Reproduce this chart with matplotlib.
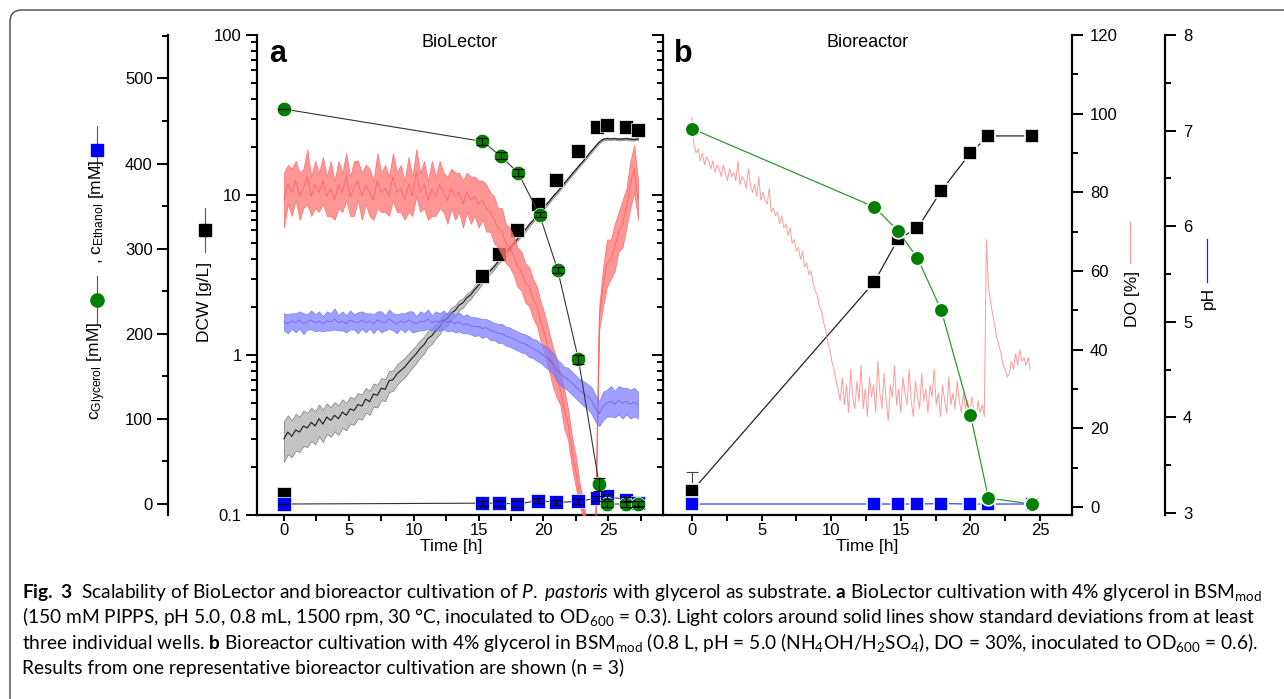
import numpy as np
import matplotlib
matplotlib.use("Agg")
import matplotlib.pyplot as plt
from matplotlib.lines import Line2D
from matplotlib.patches import FancyBboxPatch
from matplotlib.transforms import IdentityTransform
from matplotlib.ticker import MultipleLocator, LogLocator, NullFormatter

plt.rcParams['font.family'] = ['Liberation Sans', 'DejaVu Sans']
plt.rcParams['mathtext.fontset'] = 'custom'
plt.rcParams['mathtext.rm'] = 'Lato'
plt.rcParams['mathtext.it'] = 'Lato:italic'
plt.rcParams['mathtext.bf'] = 'Lato:bold'
plt.rcParams['mathtext.sf'] = 'Liberation Sans'

W, H = 1284, 699
TICK_FS = 12
LABEL_FS = 12.5

# BioLector online signals, one value every 0.3 h
bl_step = 0.3
bl_dcw = [0.30, 0.33, 0.31, 0.34, 0.33, 0.36, 0.35, 0.38, 0.36, 0.40,
          0.37, 0.41, 0.39, 0.42, 0.40, 0.44, 0.42, 0.46, 0.45, 0.49,
          0.48, 0.53, 0.51, 0.57, 0.56, 0.62, 0.61, 0.69, 0.70, 0.76,
          0.80, 0.84, 0.90, 0.96, 1.02, 1.10, 1.16, 1.27, 1.32, 1.42,
          1.50, 1.64, 1.69, 1.83, 1.90, 2.05, 2.12, 2.28, 2.38, 2.56,
          2.72, 2.94, 3.11, 3.35, 3.55, 3.83, 4.05, 4.37, 4.64, 4.99,
          5.30, 5.70, 6.05, 6.52, 6.92, 7.44, 7.90, 8.49, 9.03, 9.70,
          10.3, 11.0, 11.8, 12.6, 13.5, 14.4, 15.4, 16.4, 17.6, 18.8,
          20.1, 21.4, 22.3, 22.5, 22.4, 22.5, 22.3, 22.4, 22.5, 22.3,
          22.2, 22.4]
bl_dcw_sd = [0.085, 0.090, 0.080, 0.088, 0.082, 0.090, 0.084, 0.089, 0.083, 0.090,
             0.084, 0.088, 0.082, 0.087, 0.083, 0.088, 0.082, 0.087, 0.084, 0.089,
             0.086, 0.092, 0.088, 0.094, 0.090, 0.098, 0.095, 0.104, 0.102, 0.110,
             0.112, 0.118, 0.120, 0.126, 0.130, 0.136, 0.138, 0.145, 0.146, 0.150,
             0.150, 0.152, 0.148, 0.150, 0.145, 0.146, 0.140, 0.140, 0.135, 0.132,
             0.128, 0.125, 0.124, 0.125, 0.125, 0.128, 0.130, 0.132, 0.135, 0.140,
             0.14, 0.15, 0.15, 0.16, 0.16, 0.17, 0.17, 0.18, 0.19, 0.20,
             0.21, 0.22, 0.23, 0.24, 0.25, 0.26, 0.28, 0.29, 0.31, 0.32,
             0.33, 0.34, 0.35, 0.35, 0.35, 0.34, 0.34, 0.34, 0.35, 0.34,
             0.34, 0.34]
bl_do = [78, 82, 80, 83, 79, 81, 84, 79, 82, 80,
         83, 79, 81, 78, 82, 80, 84, 79, 81, 83,
         79, 82, 80, 78, 83, 80, 81, 79, 84, 80,
         81, 78, 82, 79, 85, 80, 82, 78, 81, 79,
         82, 80, 78, 81, 79, 80, 77, 80, 78, 79,
         77, 78, 76, 75, 73, 71, 70, 67, 66, 64,
         61, 60, 57, 56, 53, 51, 47, 44, 40, 36,
         33, 30, 25, 21, 14, 9, 3, -1, -6, -6,
         -6, 48, 56, 62, 63, 66, 70, 72, 76, 82,
         86, 78]
bl_do_sd = [7, 5, 6, 5, 6, 5, 7, 5, 6, 5,
            6, 5, 7, 5, 6, 5, 6, 5, 7, 5,
            6, 5, 6, 5, 7, 5, 6, 5, 6, 5,
            6, 5, 7, 5, 6, 5, 6, 5, 7, 5,
            6, 5, 6, 5, 6, 5, 6, 5, 6, 5,
            6, 5, 6, 5, 6, 5, 6, 5, 5, 5,
            5, 5, 5, 5, 5, 5, 5, 5, 5, 5,
            5, 4, 5, 4, 4, 4, 3, 2, 1, 1,
            1, 3, 5, 6, 5, 6, 5, 6, 5, 6,
            6, 5]
bl_ph = [5.00, 4.98, 5.01, 4.99, 5.02, 4.98, 5.00, 5.02, 4.99, 5.01,
         4.98, 5.01, 5.00, 5.03, 4.99, 5.01, 4.98, 5.02, 5.00, 4.99,
         5.02, 4.99, 5.01, 4.98, 5.02, 5.00, 4.99, 5.03, 5.00, 4.98,
         5.01, 4.99, 5.02, 5.00, 4.98, 5.01, 5.00, 5.03, 4.99, 5.01,
         5.00, 5.02, 4.99, 5.01, 4.98, 5.00, 4.97, 4.98, 4.96, 4.95,
         4.95, 4.93, 4.94, 4.91, 4.90, 4.88, 4.88, 4.85, 4.84, 4.82,
         4.80, 4.78, 4.77, 4.74, 4.72, 4.70, 4.67, 4.64, 4.61, 4.57,
         4.50, 4.46, 4.42, 4.40, 4.36, 4.32, 4.28, 4.25, 4.22, 4.18,
         4.10, 4.04, 4.12, 4.15, 4.17, 4.14, 4.18, 4.15, 4.17, 4.14,
         4.16, 4.13]
bl_ph_sd = [0.09, 0.10, 0.08, 0.10, 0.09, 0.11, 0.08, 0.10, 0.09, 0.10,
            0.08, 0.10, 0.09, 0.11, 0.08, 0.10, 0.09, 0.10, 0.08, 0.11,
            0.09, 0.10, 0.08, 0.10, 0.09, 0.11, 0.08, 0.10, 0.09, 0.10,
            0.08, 0.10, 0.09, 0.11, 0.08, 0.10, 0.09, 0.10, 0.08, 0.10,
            0.09, 0.10, 0.09, 0.10, 0.09, 0.10, 0.09, 0.10, 0.09, 0.10,
            0.09, 0.10, 0.09, 0.10, 0.09, 0.10, 0.10, 0.10, 0.10, 0.10,
            0.10, 0.10, 0.10, 0.11, 0.10, 0.11, 0.10, 0.11, 0.11, 0.11,
            0.11, 0.12, 0.11, 0.12, 0.12, 0.12, 0.12, 0.13, 0.13, 0.14,
            0.14, 0.13, 0.15, 0.14, 0.16, 0.14, 0.15, 0.16, 0.14, 0.15,
            0.15, 0.14]

# BioLector offline samples
bl_sample_t = [0, 15.3, 16.6, 18.0, 19.6, 21.0, 22.7, 24.1, 24.9, 26.4, 27.3]
bl_sample_dcw = [0.135, 3.12, 4.28, 6.04, 8.78, 12.4, 18.8, 26.6, 27.5, 26.5, 25.5]
bl_gly_t = [0, 15.3, 16.7, 18.05, 19.7, 21.1, 22.7, 24.3, 24.9, 26.4, 27.3]
bl_gly = [464, 426, 409, 389, 340, 275, 170, 23, 0, 0, 0]
bl_gly_err = [0, 4, 4, 4, 3, 4, 5, 8, 3, 3, 3]
bl_eth = [0, 1, 1, 0, 4, 2, 3, 7, 9, 5, 1]
bl_eth_err = [0, 3, 3, 3, 3, 3, 3, 3, 3, 3, 3]

# Bioreactor DO, one value every 0.15 h
br_step = 0.15
br_do = [99, 92, 90, 91, 88, 90, 87, 89, 88, 86,
         88, 85, 87, 86, 84, 87, 85, 83, 86, 84,
         85, 83, 88, 82, 84, 83, 81, 86, 82, 80,
         82, 79, 84, 78, 80, 78, 77, 81, 75, 76,
         74, 75, 72, 74, 71, 72, 69, 71, 67, 68,
         65, 66, 63, 65, 61, 62, 59, 60, 57, 55,
         54, 51, 50, 47, 45, 42, 40, 37, 35, 32,
         30, 27, 33, 26, 31, 24, 35, 28, 25, 32,
         27, 36, 25, 30, 23, 33, 28, 31, 24, 37,
         29, 25, 34, 27, 22, 31, 28, 36, 26, 30,
         24, 33, 29, 26, 35, 27, 23, 32, 28, 25,
         34, 27, 30, 24, 31, 28, 35, 26, 29, 23,
         31, 27, 24, 33, 26, 29, 25, 32, 27, 24,
         29, 25, 27, 23, 28, 25, 22, 27, 24, 26,
         23, 68, 56, 52, 49, 46, 43, 41, 39, 36,
         35, 33, 34, 37, 35, 39, 36, 40, 37, 38,
         36, 38, 35]

# Bioreactor offline samples
br_t = [0, 13.1, 14.8, 16.2, 17.9, 20.0, 21.3, 24.4]
br_dcw = [0.141, 2.86, 5.3, 6.2, 10.6, 18.3, 23.4, 23.4]
br_dcw_err = [0.045, 0.3, 0, 0, 0, 0, 0, 0]
br_gly = [441, 349, 321, 289, 228, 105, 7, 0]
br_eth = [0, 0, 0, 0, 0.5, 0, 0, 0]

caption = [
    r"$\mathbf{Fig.}$ $\mathbf{3}$  Scalability of BioLector and bioreactor cultivation of $\mathit{P.}$ $\mathit{pastoris}$ with glycerol as substrate. $\mathbf{a}$ BioLector cultivation with 4% glycerol in BSM$_{\mathrm{mod}}$",
    r"(150 mM PIPPS, pH 5.0, 0.8 mL, 1500 rpm, 30 °C, inoculated to OD$_{600}$ = 0.3). Light colors around solid lines show standard deviations from at least",
    r"three individual wells. $\mathbf{b}$ Bioreactor cultivation with 4% glycerol in BSM$_{\mathrm{mod}}$ (0.8 L, pH = 5.0 (NH$_{4}$OH/H$_{2}$SO$_{4}$), DO = 30%, inoculated to OD$_{600}$ = 0.6).",
    r"Results from one representative bioreactor cultivation are shown (n = 3)",
]


def fx(x):
  return x / W


def fy(y):
  return 1 - y / H


def style_axis(ax, axis='y'):
  ax.tick_params(axis=axis, which='major', direction='out', length=8, width=1.4,
                 labelsize=TICK_FS, pad=3)
  ax.tick_params(axis=axis, which='minor', direction='out', length=4.5, width=1.4)


def log_ticks(ax, labels=True):
  ax.set_yscale('log')
  ax.set_ylim(0.1, 100)
  ax.set_yticks([0.1, 1, 10, 100])
  ax.set_yticklabels(['0.1', '1', '10', '100'] if labels else [])
  ax.yaxis.set_minor_locator(LogLocator(base=10, subs=np.arange(2, 10)))
  ax.yaxis.set_minor_formatter(NullFormatter())
  style_axis(ax, 'y')
  ax.xaxis.set_major_locator(MultipleLocator(5))
  ax.xaxis.set_minor_locator(MultipleLocator(2.5))
  style_axis(ax, 'x')
  ax.tick_params(axis='x', which='major', length=4.5, pad=1.5)
  ax.tick_params(axis='x', which='minor', length=4.5)
  ax.spines['top'].set_visible(False)
  ax.spines['right'].set_visible(False)
  for s in ('left', 'bottom'):
    ax.spines[s].set_linewidth(1.6)


fig = plt.figure(figsize=(W / 100, H / 100), dpi=100)

bottom = (H - 515) / H
height = 480 / H

# ---------------- panel a : BioLector ----------------
axA = fig.add_axes([fx(257), bottom, 406 / W, height])
log_ticks(axA)
axA.set_xlim(-2.08, 29.22)

t_bl = np.arange(len(bl_dcw)) * bl_step
dcw = np.array(bl_dcw)
dcw_sd = np.array(bl_dcw_sd)
axA.fill_between(t_bl, dcw - dcw_sd, dcw + dcw_sd, facecolor='#c4c4c4',
                 edgecolor='#8a8a8a', lw=0.6)
axA.plot(t_bl, dcw, color='#1a1a1a', lw=0.8)
axA.plot(bl_sample_t, bl_sample_dcw, 's', color='black', ms=10,
         mec='white', mew=0.5, zorder=4)

axAd = axA.twinx()
axAd.set_ylim(-2.03, 120)
axAd.set_axis_off()
do = np.array(bl_do)
do_sd = np.array(bl_do_sd)
axAd.fill_between(t_bl, do - do_sd, do + do_sd, facecolor='#ff7c7c',
                  edgecolor='#ff5a5a', lw=0.5, alpha=0.8)
axAd.plot(t_bl, do, color='#ff4a4a', lw=0.6, alpha=0.7)

axAp = axA.twinx()
axAp.set_ylim(2.98, 8)
axAp.set_axis_off()
ph = np.array(bl_ph)
ph_sd = np.array(bl_ph_sd)
axAp.fill_between(t_bl, ph - ph_sd, ph + ph_sd, facecolor='#7f7fff',
                  edgecolor='#6464f0', lw=0.5, alpha=0.75)
axAp.plot(t_bl, ph, color='#5050e6', lw=0.6, alpha=0.7)

axAc = axA.twinx()
axAc.set_ylim(-12.9, 551)
for s in ('right', 'top', 'bottom'):
  axAc.spines[s].set_visible(False)
axAc.spines['left'].set_visible(True)
axAc.spines['left'].set_position(('axes', (168 - 257) / 406))
axAc.spines['left'].set_linewidth(1.6)
axAc.yaxis.set_ticks_position('left')
axAc.yaxis.set_label_position('left')
axAc.yaxis.set_major_locator(MultipleLocator(100))
axAc.yaxis.set_minor_locator(MultipleLocator(50))
axAc.set_yticks([0, 100, 200, 300, 400, 500])
style_axis(axAc, 'y')
axAc.plot(bl_gly_t, bl_gly, '-', color='#333333', lw=0.8, zorder=2)
axAc.plot(bl_sample_t, bl_eth, '-', color='#333333', lw=0.8, zorder=2)
axAc.plot(bl_sample_t, bl_eth, 's', color='#0000ff', ms=10, mec='white', mew=0.5, zorder=3)
axAc.plot(bl_gly_t, bl_gly, 'o', color='#008000', ms=10.5, mec='white', mew=0.5, zorder=3)
axAc.errorbar(bl_sample_t, bl_eth, yerr=bl_eth_err, fmt='none', ecolor='black',
              elinewidth=0.8, capsize=4, capthick=0.8, zorder=5)
axAc.errorbar(bl_gly_t, bl_gly, yerr=bl_gly_err, fmt='none', ecolor='black',
              elinewidth=0.8, capsize=4, capthick=0.8, zorder=5)

axA.text(0.5, 0.985, 'BioLector', transform=axA.transAxes, ha='center',
         va='center', fontsize=LABEL_FS + 0.5)

# ---------------- panel b : Bioreactor ----------------
axB = fig.add_axes([fx(663), bottom, 409 / W, height])
log_ticks(axB, labels=False)
axB.set_xlim(-2.08, 27.30)
axB.errorbar(br_t, br_dcw, yerr=[np.zeros(len(br_t)), br_dcw_err], fmt='none',
             ecolor='#444444', elinewidth=0.8, capsize=4, capthick=0.8, zorder=2)
axB.plot(br_t, br_dcw, '-', color='#222222', lw=0.9, zorder=2)
axB.plot(br_t, br_dcw, 's', color='black', ms=9.5, mec='white', mew=1.2, zorder=3)

axBd = axB.twinx()
axBd.set_ylim(-2.03, 120)
for s in ('left', 'top', 'bottom'):
  axBd.spines[s].set_visible(False)
axBd.spines['right'].set_linewidth(1.6)
axBd.yaxis.set_major_locator(MultipleLocator(20))
axBd.yaxis.set_minor_locator(MultipleLocator(10))
axBd.set_yticks([0, 20, 40, 60, 80, 100, 120])
style_axis(axBd, 'y')
axBd.tick_params(axis='y', which='major', pad=5)
t_br = np.arange(len(br_do)) * br_step
axBd.plot(t_br, br_do, color='#ff9090', lw=0.7, alpha=0.9)

axBc = axB.twinx()
axBc.set_ylim(-12.9, 551)
axBc.set_axis_off()
axBc.plot(br_t, br_eth, '-', color='#3c3cff', lw=0.9, zorder=2)
axBc.plot(br_t, br_gly, '-', color='#2f9a2f', lw=0.9, zorder=2)
axBc.plot(br_t, br_eth, 's', color='#0000ff', ms=9.5, mec='white', mew=1.2, zorder=3)
axBc.plot(br_t, br_gly, 'o', color='#008000', ms=10.5, mec='white', mew=1.2, zorder=3)

axBp = axB.twinx()
axBp.set_ylim(2.98, 8)
for s in ('left', 'top', 'bottom'):
  axBp.spines[s].set_visible(False)
axBp.spines['right'].set_position(('axes', (1165 - 663) / 409))
axBp.spines['right'].set_linewidth(1.6)
axBp.yaxis.set_major_locator(MultipleLocator(1))
axBp.yaxis.set_minor_locator(MultipleLocator(0.5))
axBp.set_yticks([3, 4, 5, 6, 7, 8])
style_axis(axBp, 'y')
axBp.tick_params(axis='y', which='major', pad=5)

axB.text(0.5, 0.985, 'Bioreactor', transform=axB.transAxes, ha='center',
         va='center', fontsize=LABEL_FS + 0.5)

# panel letters and x labels
fig.text(fx(278), fy(62), 'a', fontsize=22, fontweight='bold', ha='center', va='baseline')
fig.text(fx(683), fy(62), 'b', fontsize=22, fontweight='bold', ha='center', va='baseline')
fig.text(fx(451), fy(546), 'Time [h]', fontsize=LABEL_FS, ha='center', va='center')
fig.text(fx(867), fy(546), 'Time [h]', fontsize=LABEL_FS, ha='center', va='center')


def glyph(x, y0, y1, ym, color, marker, ms):
  fig.add_artist(Line2D([fx(x), fx(x)], [fy(y0), fy(y1)], color='#555555', lw=0.8,
                        transform=fig.transFigure))
  if marker:
    fig.add_artist(Line2D([fx(x)], [fy(ym)], marker=marker, ms=ms, color=color,
                          linestyle='none', transform=fig.transFigure))


# y labels with their symbols
fig.text(fx(205), fy(302), 'DCW [g/L]', rotation=90, fontsize=LABEL_FS, ha='center', va='center')
glyph(205, 208, 252, 230, 'black', 's', 8.5)

fig.text(fx(97), fy(371), r'c$_{\mathsf{Glycerol}}$ [mM]', rotation=90, fontsize=LABEL_FS,
         ha='center', va='center')
glyph(97, 276, 324, 300, '#008000', 'o', 9.5)
fig.text(fx(97), fy(212), r', c$_{\mathsf{Ethanol}}$ [mM]', rotation=90, fontsize=LABEL_FS,
         ha='center', va='center')
glyph(97, 126, 172, 150, '#0000ff', 's', 8.5)

fig.text(fx(1132), fy(299), 'DO [%]', rotation=90, fontsize=LABEL_FS, ha='center', va='center')
fig.add_artist(Line2D([fx(1130), fx(1130)], [fy(222), fy(263)], color='#ff9a9a', lw=0.9,
                      transform=fig.transFigure))
fig.text(fx(1208), fy(298), 'pH', rotation=90, fontsize=LABEL_FS, ha='center', va='center')
fig.add_artist(Line2D([fx(1207), fx(1207)], [fy(239), fy(282)], color='#2020e0', lw=0.9,
                      transform=fig.transFigure))

# caption, sized so the first line spans the same width as the original
caps = []
for i, line in enumerate(caption):
  caps.append(fig.text(fx(22), fy(598 + 25.3 * i), line, fontfamily='Lato',
                       fontsize=12, ha='left', va='baseline'))
r = fig.canvas.get_renderer()
w = caps[0].get_window_extent(renderer=r).width
fs = 12 * (1257 - 22) / w
for c in caps:
  c.set_fontsize(fs)

# rounded frame around the figure
frame = FancyBboxPatch((10, -60), 2000, 749, boxstyle='round,pad=0,rounding_size=12',
                       transform=IdentityTransform(), fill=False, edgecolor='#555555',
                       lw=1.1)
fig.add_artist(frame)

fig.savefig('out.png', dpi=100)
